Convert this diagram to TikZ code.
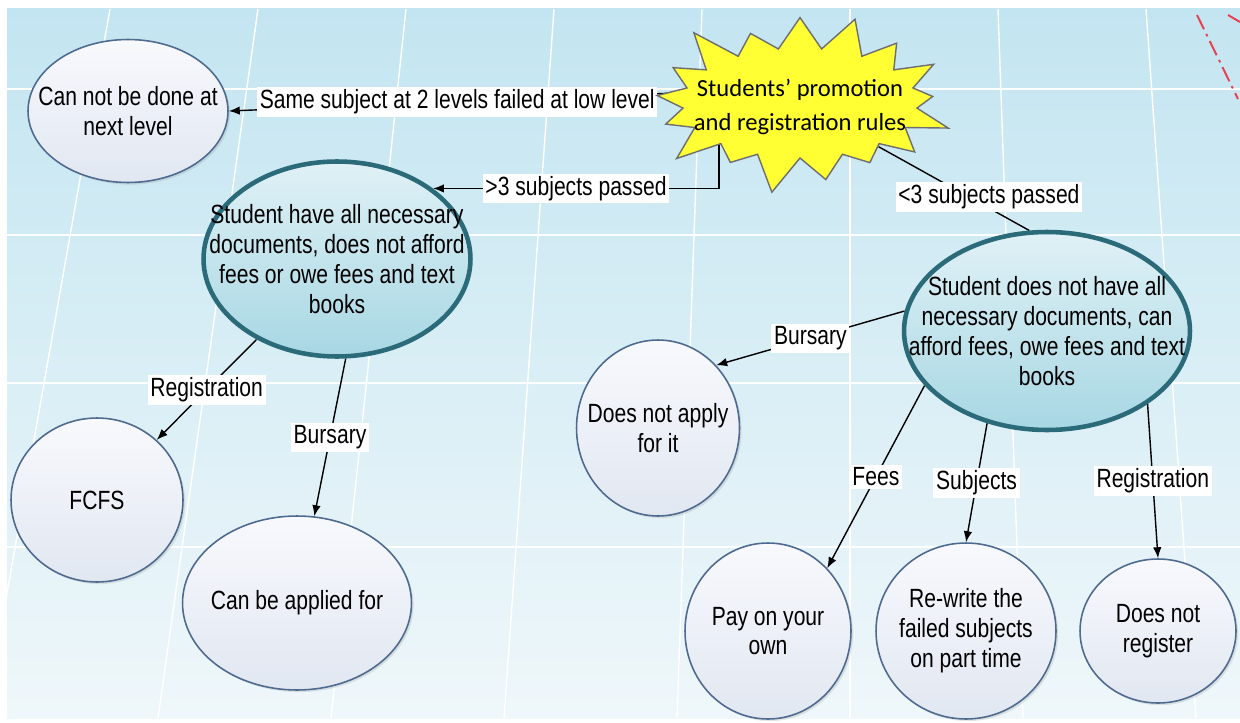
\documentclass[tikz,border=0pt]{standalone}
\usepackage{fontspec}
\setmainfont[FakeStretch=0.8]{Liberation Sans}
\newfontfamily\burstfont{Carlito}
\usepackage{tikz}
\usetikzlibrary{shadows, arrows.meta}
\usetikzlibrary{shapes,shapes.geometric}

\definecolor{bgtop}{HTML}{C3E5F1}
\definecolor{bgbot}{HTML}{EFF7FA}
\definecolor{burst}{HTML}{FFFF33}
\definecolor{burstline}{HTML}{6E6E6E}
\definecolor{leaftop}{HTML}{F8F9FD}
\definecolor{leafbot}{HTML}{E1E7F1}
\definecolor{leafline}{HTML}{4F6A8F}
\definecolor{condtop}{HTML}{E0F1F6}
\definecolor{condbot}{HTML}{A7D7E3}
\definecolor{condline}{HTML}{2B6A78}
\definecolor{redline}{HTML}{E8404F}

\pgfdeclarelayer{paper}
\pgfdeclarelayer{links}
\pgfsetlayers{paper,links,main}

\begin{document}
\begin{tikzpicture}[x=0.02cm, y=-0.02cm,
		every node/.style={font=\fontsize{15pt}{17pt}\selectfont, align=center},
		leaf/.style={ellipse, draw=leafline, line width=0.9pt, top color=leaftop, bottom color=leafbot, inner sep=0pt,
			drop shadow={opacity=0.2, shadow xshift=1.2pt, shadow yshift=-1.2pt}},
		cond/.style={ellipse, draw=condline, line width=2.6pt, top color=condtop, bottom color=condbot, inner sep=0pt},
		lbl/.style={fill=white, inner sep=1.5pt},
		arr/.style={-{Latex[length=0.22cm, width=0.17cm]}, line width=0.8pt}]
	\useasboundingbox (0,0) rectangle (1240,723);

	% nodes
	\node[starburst, starburst points=17, starburst point height=0.85cm, fill=burst, draw=burstline, line width=0.8pt,
		minimum width=6.4cm, minimum height=3.9cm, inner sep=0pt,
		label={[font=\burstfont\fontsize{14pt}{19pt}\selectfont, yshift=-0.08cm]center:{Students’ promotion\\and registration rules}}] (rules) at (800,103) {};
	\node[leaf, minimum width=4cm, minimum height=2.86cm, label={center:{Can not be done at\\next level}}] (nxt) at (128,111) {};
	\node[cond, minimum width=5.34cm, minimum height=3.9cm,
		label={center:{Student have all necessary\\documents, does not afford\\fees or owe fees and text\\books}}] (hasdoc) at (337,259) {};
	\node[cond, minimum width=5.72cm, minimum height=3.96cm,
		label={center:{Student does not have all\\necessary documents, can\\afford fees, owe fees and text\\books}}] (nodoc) at (1047,331) {};
	\node[leaf, minimum width=3.44cm, minimum height=3.28cm, label={center:FCFS}] (fcfs) at (97,500) {};
	\node[leaf, minimum width=4.58cm, minimum height=3.48cm, label={center:Can be applied for}] (apply) at (297,603) {};
	\node[leaf, minimum width=3.26cm, minimum height=3.52cm, label={center:{Does not apply\\for it}}] (noapply) at (658,428) {};
	\node[leaf, minimum width=3.32cm, minimum height=3.52cm, label={center:{Pay on your\\own}}] (pay) at (768,631) {};
	\node[leaf, minimum width=3.6cm, minimum height=3.52cm, label={center:{Re-write the\\failed subjects\\on part time}}] (rewrite) at (966,631) {};
	\node[leaf, minimum width=3.12cm, minimum height=2.88cm, label={center:{Does not\\register}}] (noreg) at (1158,631) {};

	% paper
	\begin{pgfonlayer}{paper}
		\fill[white] (0,0) rectangle (1240,723);
		\shade[top color=bgtop, bottom color=bgbot] (7,9) rectangle (1240,718);
		\begin{scope}
			\clip (7,9) rectangle (1240,718);
			\foreach \k in {-5,...,2}
				\draw[white, line width=0.8pt] ({850+148*\k},9) -- ({850+173*\k},718);
			\foreach \yy in {89,235,383,547}
				\draw[white, line width=1pt] (7,\yy) -- (1240,\yy);
		\end{scope}
		\draw[redline, line width=1.1pt, dash pattern=on 9pt off 3pt on 1.5pt off 3pt] (1197,15) -- (1238,99);
		\draw[redline, line width=1.1pt] (1228,15) -- (1240,22);
	\end{pgfonlayer}

	% links
	\begin{pgfonlayer}{links}
		\draw[arr] ([yshift=0.3cm]rules.center) -- node[lbl, pos=0.6]{Same subject at 2 levels failed at low level} (nxt.east);
		\draw[arr] ([xshift=-1.62cm]rules.center) |- node[lbl, pos=0.75]{>3 subjects passed} (hasdoc.north east);
		\draw (rules) edge[line width=0.8pt] node[lbl, pos=0.6, xshift=0.4cm]{<3 subjects passed} (nodoc.100);
		\draw (hasdoc.225) edge[arr] node[lbl]{Registration} (fcfs);
		\draw (hasdoc.-85) edge[arr] node[lbl]{Bursary} (apply);
		\draw (nodoc.172) edge[arr] node[lbl]{Bursary} (noapply.north east);
		\draw (nodoc.204) edge[arr] node[lbl]{Fees} (pay.north east);
		\draw (nodoc.237) edge[arr] node[lbl]{Subjects} (rewrite.north);
		\draw (nodoc.-36) edge[arr] node[lbl]{Registration} (noreg.north);
	\end{pgfonlayer}
\end{tikzpicture}
\end{document}
